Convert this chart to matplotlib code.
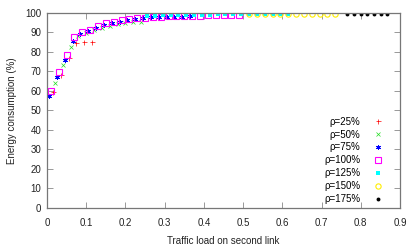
import matplotlib
matplotlib.use("Agg")
import matplotlib.pyplot as plt

plt.rcParams['font.family'] = ['Liberation Sans', 'DejaVu Sans']

# rho = 25%
load_25 = [0.015, 0.035, 0.055, 0.075, 0.095, 0.115]
energy_25 = [59.5, 68, 77, 84.4, 85, 85]

# rho = 50%
load_50 = [0.02, 0.04, 0.06, 0.08, 0.10, 0.12, 0.14, 0.16, 0.18, 0.20, 0.22, 0.24]
energy_50 = [64.3, 73.2, 82.5, 88.2, 89.6, 91.3, 92.5, 93.5, 94.2, 94.7, 95.2, 95.6]

# rho = 75%
load_75 = [0.005, 0.025, 0.045, 0.065, 0.085, 0.105, 0.125, 0.145, 0.165, 0.185,
           0.205, 0.225, 0.245, 0.265, 0.285, 0.305, 0.325, 0.345, 0.365]
energy_75 = [57.5, 67, 76, 85.5, 89.4, 90.8, 92.5, 93.8, 94.8, 95.5,
             96.5, 97, 97.5, 97.8, 97.9, 98, 98.1, 98.2, 98.3]

# rho = 100%
load_100 = [0.01, 0.03, 0.05, 0.07, 0.09, 0.11, 0.13, 0.15, 0.17, 0.19, 0.21, 0.23, 0.25,
            0.27, 0.29, 0.31, 0.33, 0.35, 0.37, 0.39, 0.41, 0.43, 0.45, 0.47, 0.49]
energy_100 = [60, 69.5, 78.5, 87.5, 90, 91.5, 93.3, 94.8, 95.6, 96.3, 96.8, 97.3, 97.6,
              97.9, 98.1, 98.3, 98.4, 98.5, 98.6, 98.7, 98.8, 98.8, 98.9, 98.9, 99.0]

# rho = 125%
load_125 = [0.255, 0.275, 0.295, 0.315, 0.335, 0.355, 0.375, 0.395, 0.415, 0.435,
            0.455, 0.475, 0.495, 0.515, 0.535, 0.555, 0.575, 0.595, 0.615]
energy_125 = [98.6, 98.7, 98.8, 98.9, 98.9, 99.0, 99.0, 99.1, 99.2, 99.3,
              99.3, 99.4, 99.4, 99.5, 99.5, 99.5, 99.6, 99.6, 99.6]

# rho = 150%
load_150 = [0.515, 0.535, 0.555, 0.575, 0.595, 0.615, 0.635, 0.655, 0.675, 0.695, 0.715, 0.735]
energy_150 = [99.5, 99.5, 99.5, 99.6, 99.6, 99.6, 99.6, 99.7, 99.7, 99.7, 99.7, 99.7]

# rho = 175%
load_175 = [0.765, 0.782, 0.8, 0.817, 0.834, 0.851, 0.868]
energy_175 = [99.4, 99.4, 99.5, 99.5, 99.5, 99.5, 99.5]

fig = plt.figure(figsize=(4.15, 2.49), dpi=100)
ax = fig.add_axes([0.1133, 0.1647, 0.8506, 0.7831])

# (marker, colour, filled, size, edge width)
styles = [
    ('+', '#ff0000', True, 3.6, 0.5),
    ('x', '#22dd22', True, 2.8, 0.5),
    ((6, 2, 0), '#0000ff', True, 3.4, 0.7),
    ('s', '#ff00ff', False, 4.0, 0.8),
    ('s', '#00ffff', True, 3.3, 0.0),
    ('o', '#ffee00', False, 3.8, 0.8),
    ('o', '#000000', True, 2.8, 0.0),
]
series = [
    (load_25, energy_25, 'ρ=25%'),
    (load_50, energy_50, 'ρ=50%'),
    (load_75, energy_75, 'ρ=75%'),
    (load_100, energy_100, 'ρ=100%'),
    (load_125, energy_125, 'ρ=125%'),
    (load_150, energy_150, 'ρ=150%'),
    (load_175, energy_175, 'ρ=175%'),
]

for (xs, ys, lab), (mk, col, filled, ms, mew) in zip(series, styles):
    ax.plot(xs, ys, ls='none', marker=mk, ms=ms, mew=mew,
            mec=col, mfc=col if filled else 'none', label=lab)

ax.set_xlim(0, 0.9)
ax.set_ylim(0, 100)
ax.set_xticks([0, 0.1, 0.2, 0.3, 0.4, 0.5, 0.6, 0.7, 0.8, 0.9])
ax.set_xticklabels(['0', '0.1', '0.2', '0.3', '0.4', '0.5', '0.6', '0.7', '0.8', '0.9'])
ax.set_yticks(range(0, 101, 10))
ax.tick_params(direction='in', top=True, right=True, length=4, width=0.6,
               color='#888888', labelsize=7, labelcolor='#222222')
ax.tick_params(axis='x', pad=7)
ax.tick_params(axis='y', pad=4)
for s in ax.spines.values():
    s.set_color('#777777')
    s.set_linewidth(0.9)

ax.set_xlabel('Traffic load on second link', fontsize=7, labelpad=6, color='#222222')
ax.set_ylabel('Energy consumption (%)', fontsize=7, labelpad=6, color='#222222')

leg = ax.legend(loc='lower right', markerfirst=False, frameon=False, fontsize=7,
                handlelength=0.8, handletextpad=1.4, labelspacing=0.3,
                borderaxespad=0.2, borderpad=0.2, bbox_to_anchor=(0.96, 0.0))
for h, (mk, col, filled, ms, mew) in zip(leg.legend_handles, styles):
    h.set_markeredgecolor(col)
    h.set_markerfacecolor(col if filled else 'none')

fig.savefig('out.png', dpi=100)
